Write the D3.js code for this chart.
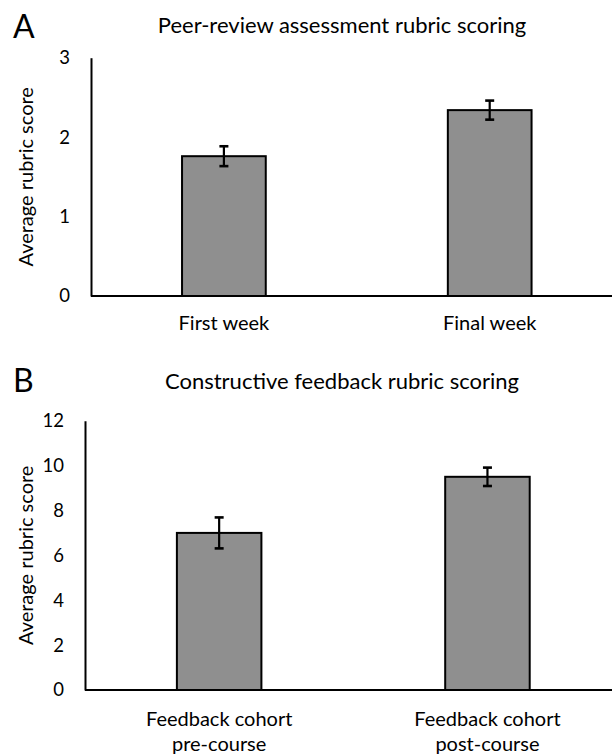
<!DOCTYPE html>
<html>
<head>
<meta charset="utf-8">
<script src="https://cdn.jsdelivr.net/npm/d3@7"></script>
<style>
  body { margin: 0; background: #fff; }
  svg text { font-family: Lato, "Open Sans", sans-serif; fill: #000; }
</style>
</head>
<body>
<div id="chart"></div>
<script>
// panel A
const catsA = ["First week", "Final week"];
const meansA = [1.76, 2.34];
const errsA = [0.125, 0.12];
const ticksA = [0, 1, 2, 3];

// panel B
const catsB = ["Feedback cohort|pre-course", "Feedback cohort|post-course"];
const meansB = [7.0, 9.5];
const errsB = [0.69, 0.41];
const ticksB = [0, 2, 4, 6, 8, 10, 12];

const W = 612, H = 756;

const svg = d3.select("#chart").append("svg")
  .attr("width", W).attr("height", H);

function panel(o) {
  const g = svg.append("g");

  const x = d3.scaleBand().domain(o.cats)
    .range([o.left, o.right]).paddingInner(0.685).paddingOuter(0.3425);
  const y = d3.scaleLinear().domain([0, d3.max(o.ticks)]).range([o.zero, o.top]);

  // panel letter and title
  g.append("text").attr("x", 13).attr("y", o.letterY)
    .style("font-size", "32px").text(o.letter);
  g.append("text").attr("x", 342).attr("y", o.titleY)
    .attr("text-anchor", "middle").style("font-size", "22px").text(o.title);

  // y axis title
  g.append("text")
    .attr("transform", `translate(33, ${(o.top + o.zero) / 2}) rotate(-90)`)
    .attr("text-anchor", "middle").style("font-size", "20px")
    .text("Average rubric score");

  // bars
  const data = o.cats.map((c, i) => ({ c: c, m: o.means[i], e: o.errs[i] }));
  g.selectAll(".bar").data(data).enter().append("rect")
    .attr("x", d => x(d.c)).attr("width", x.bandwidth())
    .attr("y", d => y(d.m)).attr("height", d => y(0) - y(d.m))
    .attr("fill", "#8f8f8f").attr("stroke", "#000").attr("stroke-width", 2);

  // error bars
  const eb = g.selectAll(".err").data(data).enter().append("g")
    .attr("stroke", "#000").attr("stroke-width", 2.2);
  const cx = d => x(d.c) + x.bandwidth() / 2;
  eb.append("line").attr("x1", cx).attr("x2", cx)
    .attr("y1", d => y(d.m - d.e)).attr("y2", d => y(d.m + d.e));
  eb.append("line").attr("x1", d => cx(d) - 4.5).attr("x2", d => cx(d) + 4.5)
    .attr("y1", d => y(d.m + d.e)).attr("y2", d => y(d.m + d.e)).attr("stroke-width", 2.6);
  eb.append("line").attr("x1", d => cx(d) - 4.5).attr("x2", d => cx(d) + 4.5)
    .attr("y1", d => y(d.m - d.e)).attr("y2", d => y(d.m - d.e)).attr("stroke-width", 2.6);

  // axes
  const ya = g.append("g").attr("transform", `translate(${o.left},0)`)
    .call(d3.axisLeft(y).tickValues(o.ticks).tickFormat(d3.format("d"))
      .tickSize(0).tickPadding(21));
  ya.select(".domain").attr("stroke", "#000").attr("stroke-width", 2);
  ya.selectAll("text").style("font-size", "18.5px").attr("font-family", null);

  const xa = g.append("g").attr("transform", `translate(0,${o.zero})`)
    .call(d3.axisBottom(x).tickSize(0).tickPadding(0).tickSizeOuter(0));
  xa.select(".domain").attr("stroke", "#000").attr("stroke-width", 2)
    .attr("d", `M${o.left},0H${W + 10}`);
  xa.selectAll("text").attr("font-family", null).attr("dy", null)
    .style("font-size", "20px").attr("y", o.labelY)
    .each(function(d) {
      const t = d3.select(this);
      const lines = d.split("|");
      t.text(null);
      lines.forEach((l, i) => {
        t.append("tspan").attr("x", 0).attr("y", o.labelY + i * 25).text(l);
      });
    });
}

panel({
  letter: "A", letterY: 38, title: "Peer-review assessment rubric scoring", titleY: 33,
  cats: catsA, means: meansA, errs: errsA, ticks: ticksA,
  left: 91, right: 622.6, top: 57.7, zero: 296, labelY: 34
});

panel({
  letter: "B", letterY: 392, title: "Constructive feedback rubric scoring", titleY: 389,
  cats: catsB, means: meansB, errs: errsB, ticks: ticksB,
  left: 85, right: 621.6, top: 420.7, zero: 690, labelY: 36
});
</script>
</body>
</html>
